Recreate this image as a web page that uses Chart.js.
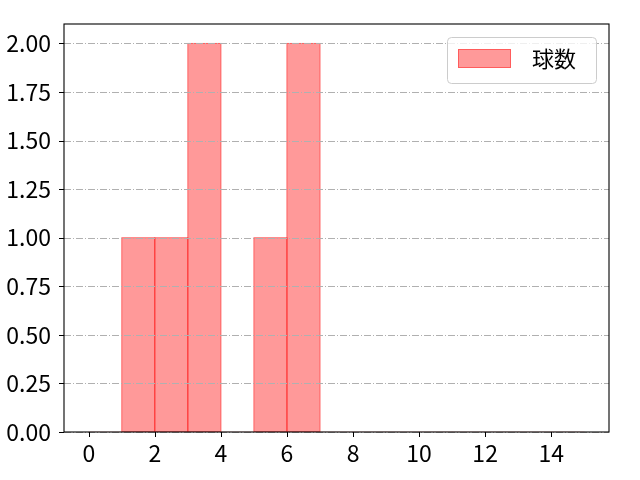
<!DOCTYPE html>
<html>
<head>
<meta charset="utf-8">
<script src="https://cdn.jsdelivr.net/npm/chart.js@4.4.0/dist/chart.umd.min.js"></script>
<style>
html,body{margin:0;padding:0;background:#fff;}
#wrap{width:640px;height:480px;position:relative;}
</style>
</head>
<body>
<div id="wrap"><canvas id="c" width="640" height="480"></canvas></div>
<script>
const seriesLabel = '球数';
const binEdges = [0,1,2,3,4,5,6,7,8,9,10,11,12,13,14,15];
const counts = [0,1,1,2,0,1,2,0,0,0,0,0,0,0,0];
const xTicks = [0,2,4,6,8,10,12,14];
const yTicks = [0,0.25,0.5,0.75,1.0,1.25,1.5,1.75,2.0];

const FONT = '"Noto Sans CJK JP", "Noto Sans", sans-serif';
const FILL = 'rgba(255,0,0,0.4)';
const EDGE = 'rgba(255,0,0,0.4)';

const points = counts.map((c,i)=>({x:(binEdges[i]+binEdges[i+1])/2, y:c}));

const overlay = {
  id:'overlay',
  afterDatasetsDraw(chart){
    const ctx = chart.ctx, a = chart.chartArea, ys = chart.scales.y;
    ctx.save();
    ctx.strokeStyle = EDGE;
    ctx.lineWidth = 1;
    chart.getDatasetMeta(0).data.forEach((el, i)=>{
      if (!counts[i]) return;
      const p = el.getProps(['x','y','base','width'], true);
      const l = p.x - p.width/2, r = p.x + p.width/2;
      ctx.strokeRect(l, p.y, r-l, p.base-p.y);
    });
    ctx.strokeStyle = '#b0b0b0';
    ctx.lineWidth = 1;
    ctx.setLineDash([7,2,1,2]);
    yTicks.forEach(v=>{
      const py = Math.round(ys.getPixelForValue(v))+0.5;
      ctx.beginPath(); ctx.moveTo(a.left,py); ctx.lineTo(a.right,py); ctx.stroke();
    });
    ctx.restore();
  },
  afterDraw(chart){
    const ctx = chart.ctx, a = chart.chartArea, xs = chart.scales.x, ys = chart.scales.y;
    ctx.save();
    ctx.strokeStyle = '#000';
    ctx.lineWidth = 1;
    xTicks.forEach(v=>{
      const px = Math.round(xs.getPixelForValue(v))+0.5;
      ctx.beginPath(); ctx.moveTo(px,a.bottom); ctx.lineTo(px,a.bottom+5); ctx.stroke();
    });
    yTicks.forEach(v=>{
      const py = Math.round(ys.getPixelForValue(v))+0.5;
      ctx.beginPath(); ctx.moveTo(a.left-5,py); ctx.lineTo(a.left,py); ctx.stroke();
    });
    ctx.lineWidth = 1.1;
    ctx.strokeRect(a.left, a.top, a.right-a.left, a.bottom-a.top);
    const bx = 447, by = 37, bw = 149, bh = 46, r = 4;
    ctx.fillStyle = 'rgba(255,255,255,0.8)';
    ctx.strokeStyle = '#cccccc';
    ctx.lineWidth = 1;
    ctx.beginPath();
    ctx.roundRect(bx+0.5, by+0.5, bw, bh, r);
    ctx.fill(); ctx.stroke();
    ctx.fillStyle = FILL;
    ctx.fillRect(458, 49, 53, 19);
    ctx.strokeStyle = EDGE;
    ctx.strokeRect(458.5, 49.5, 52, 18);
    ctx.fillStyle = '#000';
    ctx.font = '22px ' + FONT;
    ctx.textBaseline = 'middle';
    ctx.textAlign = 'left';
    ctx.fillText(seriesLabel, 532, 59);
    ctx.restore();
  }
};

new Chart(document.getElementById('c'), {
  type:'bar',
  data:{
    datasets:[{
      label: seriesLabel,
      data: points,
      backgroundColor: FILL,
      borderWidth: 0,
      barPercentage: 1,
      categoryPercentage: 1,
      grouped: false
    }]
  },
  options:{
    responsive:false,
    animation:false,
    devicePixelRatio:1,
    layout:{padding:{top:24,right:31,left:0,bottom:0}},
    plugins:{legend:{display:false}, tooltip:{enabled:false}},
    scales:{
      x:{
        type:'linear', min:-0.75, max:15.75, offset:false,
        afterBuildTicks(s){ s.ticks = xTicks.map(v=>({value:v})); },
        afterFit(s){ s.height = 48; },
        grid:{offset:false, drawOnChartArea:false, tickLength:5, tickColor:'rgba(0,0,0,0)', color:'rgba(0,0,0,0)'},
        border:{display:false},
        ticks:{font:{family:FONT,size:23}, color:'#000', padding:2, maxRotation:0, autoSkip:false}
      },
      y:{
        min:0, max:2.1,
        afterBuildTicks(s){ s.ticks = yTicks.map(v=>({value:v})); },
        afterFit(s){ s.width = 64; },
        grid:{offset:false, drawOnChartArea:false, tickLength:5, tickColor:'rgba(0,0,0,0)', color:'rgba(0,0,0,0)'},
        border:{display:false},
        ticks:{font:{family:FONT,size:23}, color:'#000', padding:8, callback:v=>Number(v).toFixed(2), autoSkip:false}
      }
    }
  },
  plugins:[overlay]
});
</script>
</body>
</html>
